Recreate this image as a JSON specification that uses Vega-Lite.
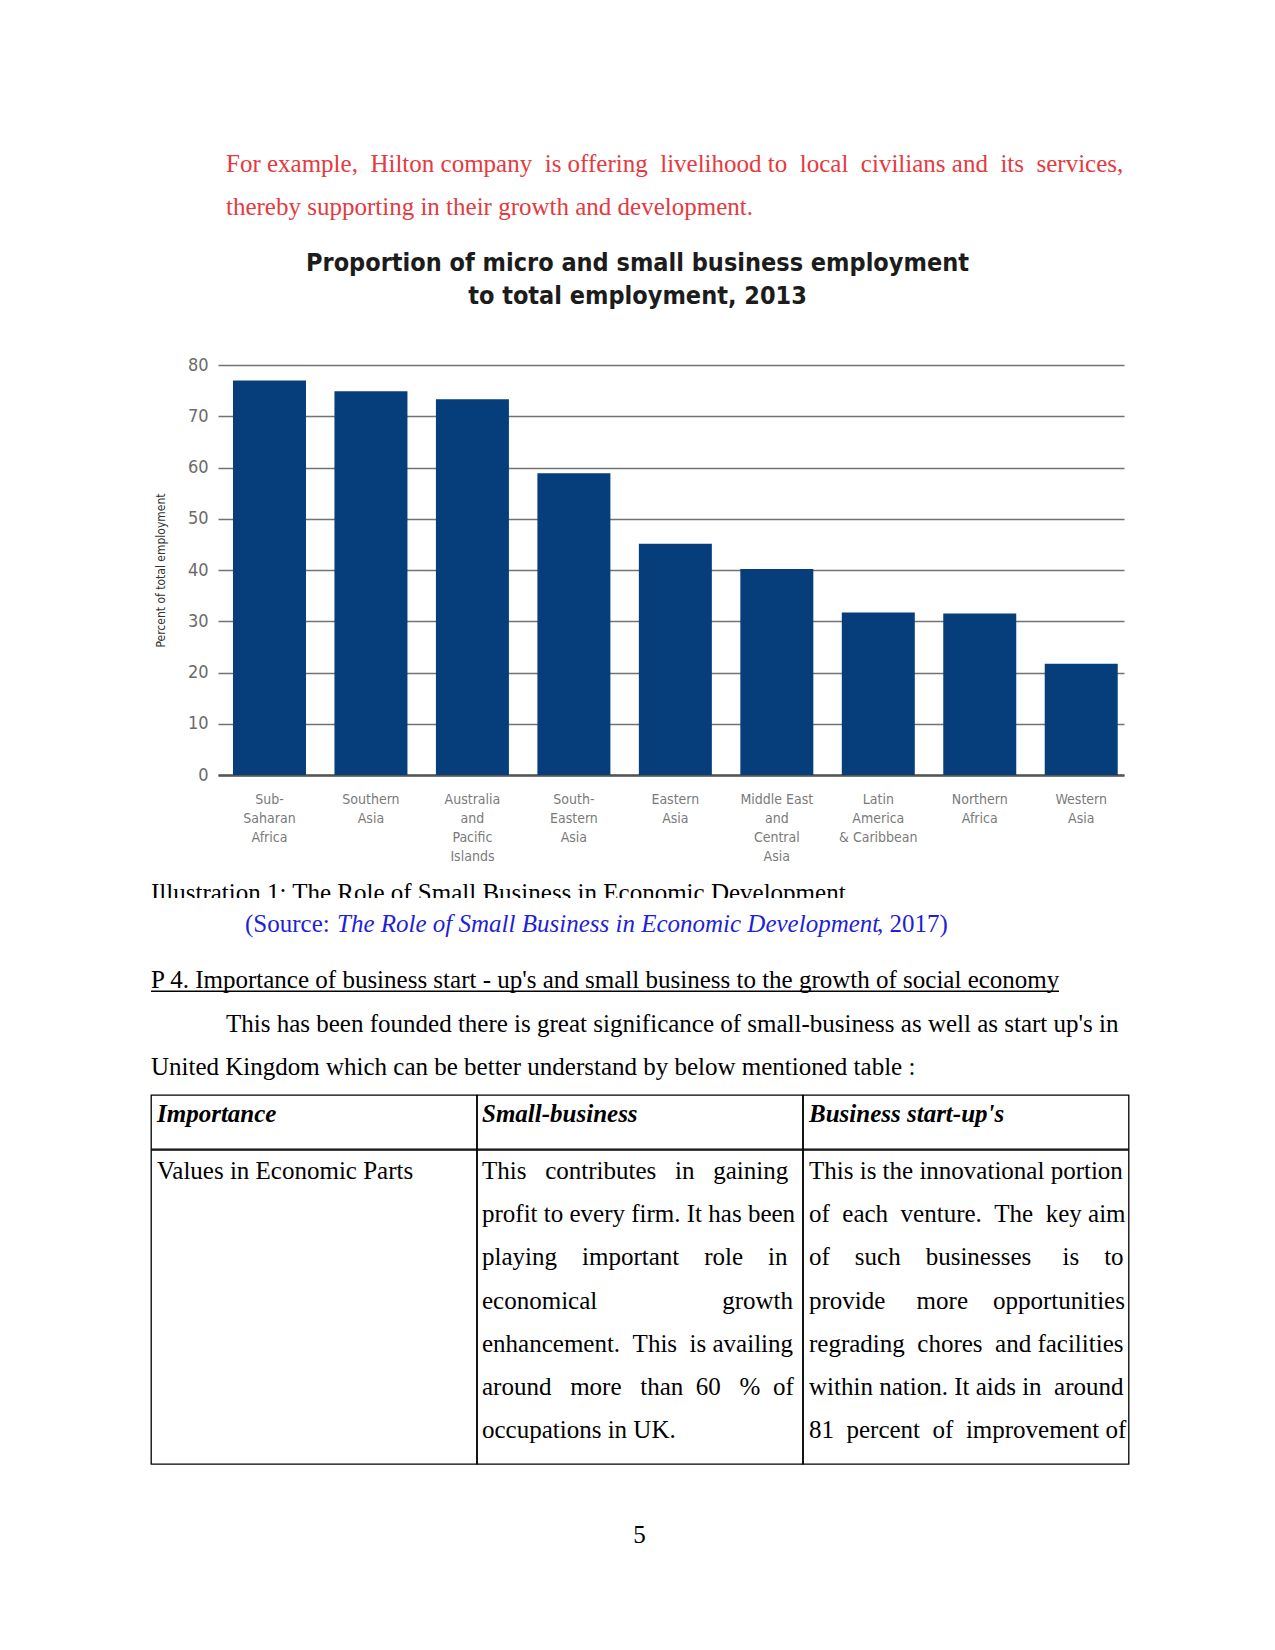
{
  "$schema": "https://vega.github.io/schema/vega-lite/v6.json",
  "background": "white",
  "padding": {"left": 150, "top": 143, "right": 148, "bottom": 40},
  "config": {"view": {"stroke": null}, "font": "Liberation Serif"},
  "spacing": 0,
  "bounds": "full",
  "vconcat": [
    {
      "width": 977, "height": 106.5,
      "data": {"values": [
        {"line": 1, "text": "For example, \u00a0Hilton company \u00a0is offering \u00a0livelihood to \u00a0local \u00a0civilians and \u00a0its \u00a0services,"},
        {"line": 2, "text": "thereby supporting in their growth and development."}
      ]},
      "mark": {"type": "text", "align": "left", "baseline": "middle", "font": "Liberation Serif", "fontSize": 25, "color": "#e53a3f", "dx": 75},
      "encoding": {
        "x": {"datum": 0, "type": "quantitative", "scale": {"domain": [0, 1]}, "axis": null},
        "y": {"field": "line", "type": "ordinal", "scale": {"type": "point", "padding": 0.7384, "align": 0.3384}, "axis": null},
        "text": {"field": "text"}
      }
    },
    {
      "width": 973, "height": 410,
      "title": {
        "text": ["Proportion of micro and small business employment", "to total employment, 2013"],
        "font": "DejaVu Sans Condensed, DejaVu Sans, sans-serif",
        "fontSize": 25, "fontWeight": "bold", "lineHeight": 33, "color": "#1c1c1c",
        "anchor": "middle", "frame": "group", "baseline": "bottom", "offset": 22.5
      },
      "data": {"values": [
        {"region": "Sub-|Saharan|Africa", "pct": 77.0},
        {"region": "Southern|Asia", "pct": 74.9},
        {"region": "Australia|and|Pacific|Islands", "pct": 73.3},
        {"region": "South-|Eastern|Asia", "pct": 58.9},
        {"region": "Eastern|Asia", "pct": 45.1},
        {"region": "Middle East|and|Central|Asia", "pct": 40.2},
        {"region": "Latin|America|& Caribbean", "pct": 31.7},
        {"region": "Northern|Africa", "pct": 31.5},
        {"region": "Western|Asia", "pct": 21.7}
      ]},
      "mark": {"type": "bar", "color": "#053e7a"},
      "encoding": {
        "x": {
          "field": "region", "type": "nominal", "sort": null,
          "scale": {"range": [67, 973], "paddingInner": 0.2806, "paddingOuter": 0.1048, "align": 0.705},
          "axis": {
            "title": null, "labelExpr": "split(datum.label, '|')", "labelAngle": 0,
            "ticks": false, "domain": true, "domainColor": "#555555", "domainWidth": 2.5,
            "labelFont": "DejaVu Sans Condensed, DejaVu Sans, sans-serif",
            "labelFontSize": 14, "labelLineHeight": 19, "labelColor": "#7a7a7a", "labelPadding": 17
          }
        },
        "y": {
          "field": "pct", "type": "quantitative",
          "scale": {"domain": [0, 80]},
          "axis": {
            "title": "Percent of total employment",
            "offset": -67,
            "values": [0, 10, 20, 30, 40, 50, 60, 70, 80],
            "grid": true, "gridColor": "#727272", "gridWidth": 1.3,
            "domain": false, "ticks": false,
            "labelFont": "DejaVu Sans Condensed, DejaVu Sans, sans-serif",
            "labelFontSize": 18, "labelColor": "#6a6a6a", "labelPadding": 10,
            "titleFont": "DejaVu Sans Condensed, DejaVu Sans, sans-serif",
            "titleFontSize": 12, "titleFontWeight": "normal", "titleColor": "#333333", "titlePadding": 19.4
          }
        }
      }
    },
    {
      "width": 977, "height": 35,
      "data": {"values": [{"line": 1, "text": "Illustration 1: The Role of Small Business in Economic Development"}]},
      "mark": {"type": "text", "align": "left", "baseline": "alphabetic", "font": "Liberation Serif", "fontSize": 25, "color": "#000000", "clip": true, "dy": 3},
      "encoding": {
        "x": {"datum": 0, "type": "quantitative", "scale": {"domain": [0, 1]}, "axis": null},
        "y": {"field": "line", "type": "ordinal", "scale": {"type": "point", "padding": 0.5, "align": 1}, "axis": null},
        "text": {"field": "text"}
      }
    },
    {
      "width": 977, "height": 52.2,
      "data": {"values": [
        {"line": 1, "part": "a", "text": "(Source: "},
        {"line": 1, "part": "b", "text": "The Role of Small Business in Economic Development"},
        {"line": 1, "part": "c", "text": ", 2017)"}
      ]},
      "encoding": {
        "x": {"datum": 0, "type": "quantitative", "scale": {"domain": [0, 1]}, "axis": null},
        "y": {"field": "line", "type": "ordinal", "scale": {"type": "point", "padding": 0.5}, "axis": null},
        "text": {"field": "text"}
      },
      "layer": [
        {"transform": [{"filter": "datum.part == 'a'"}],
         "mark": {"type": "text", "align": "left", "baseline": "middle", "font": "Liberation Serif", "fontSize": 25, "color": "#1f1fd6", "dx": 94}},
        {"transform": [{"filter": "datum.part == 'b'"}],
         "mark": {"type": "text", "align": "left", "baseline": "middle", "font": "Liberation Serif", "fontSize": 25, "fontStyle": "italic", "color": "#1f1fd6", "dx": 186}},
        {"transform": [{"filter": "datum.part == 'c'"}],
         "mark": {"type": "text", "align": "left", "baseline": "middle", "font": "Liberation Serif", "fontSize": 25, "color": "#1f1fd6", "dx": 726}}
      ]
    },
    {
      "width": 908, "height": 58.6,
      "data": {"values": [{"line": 1, "text": "P 4. Importance of business start - up's and small business to the growth of social economy"}]},
      "layer": [
        {
          "mark": {"type": "text", "align": "left", "baseline": "middle", "font": "Liberation Serif", "fontSize": 25, "color": "#000000"},
          "encoding": {
            "x": {"datum": 0, "type": "quantitative", "scale": {"domain": [0, 1]}, "axis": null},
            "y": {"field": "line", "type": "ordinal", "scale": {"type": "point", "padding": 0.5}, "axis": null},
            "text": {"field": "text"}
          }
        },
        {
          "mark": {"type": "rule", "color": "#000000", "strokeWidth": 1.5},
          "encoding": {
            "y": {"datum": 0.688, "type": "quantitative", "scale": {"domain": [0, 1], "reverse": true}, "axis": null}
          }
        }
      ],
      "resolve": {"scale": {"y": "independent"}}
    },
    {
      "width": 977, "height": 83.7,
      "data": {"values": [
        {"line": 1, "text": "This has been founded there is great significance of small-business as well as start up's in"},
        {"line": 2, "text": "United Kingdom which can be better understand by below mentioned table :"}
      ]},
      "encoding": {
        "x": {"datum": 0, "type": "quantitative", "scale": {"domain": [0, 1]}, "axis": null},
        "y": {"field": "line", "type": "ordinal", "scale": {"type": "point", "padding": 0.462, "align": 0.34}, "axis": null},
        "text": {"field": "text"}
      },
      "layer": [
        {"transform": [{"filter": "datum.line == 1"}],
         "mark": {"type": "text", "align": "left", "baseline": "middle", "font": "Liberation Serif", "fontSize": 25, "color": "#000000", "dx": 75}},
        {"transform": [{"filter": "datum.line == 2"}],
         "mark": {"type": "text", "align": "left", "baseline": "middle", "font": "Liberation Serif", "fontSize": 25, "color": "#000000"}}
      ]
    },
    {
      "spacing": -1.3,
      "bounds": "full",
      "vconcat": [
        {
          "spacing": 0,
          "bounds": "flush",
          "hconcat": [
            {
              "width": 325.6, "height": 54, "view": {"stroke": "#000000", "strokeWidth": 1.3},
              "data": {"values": [{"line": 1, "text": "Importance"}]},
              "mark": {"type": "text", "align": "left", "baseline": "middle", "font": "Liberation Serif", "fontSize": 25, "fontStyle": "italic", "fontWeight": "bold", "color": "#000000", "dx": 6},
              "encoding": {
                "x": {"datum": 0, "type": "quantitative", "scale": {"domain": [0, 1]}, "axis": null},
                "y": {"field": "line", "type": "ordinal", "scale": {"type": "point", "padding": 0.5, "align": 0.352}, "axis": null},
                "text": {"field": "text"}
              }
            },
            {
              "width": 325.6, "height": 54, "view": {"stroke": "#000000", "strokeWidth": 1.3},
              "data": {"values": [{"line": 1, "text": "Small-business"}]},
              "mark": {"type": "text", "align": "left", "baseline": "middle", "font": "Liberation Serif", "fontSize": 25, "fontStyle": "italic", "fontWeight": "bold", "color": "#000000", "dx": 5},
              "encoding": {
                "x": {"datum": 0, "type": "quantitative", "scale": {"domain": [0, 1]}, "axis": null},
                "y": {"field": "line", "type": "ordinal", "scale": {"type": "point", "padding": 0.5, "align": 0.352}, "axis": null},
                "text": {"field": "text"}
              }
            },
            {
              "width": 325.6, "height": 54, "view": {"stroke": "#000000", "strokeWidth": 1.3},
              "data": {"values": [{"line": 1, "text": "Business start-up's"}]},
              "mark": {"type": "text", "align": "left", "baseline": "middle", "font": "Liberation Serif", "fontSize": 25, "fontStyle": "italic", "fontWeight": "bold", "color": "#000000", "dx": 6},
              "encoding": {
                "x": {"datum": 0, "type": "quantitative", "scale": {"domain": [0, 1]}, "axis": null},
                "y": {"field": "line", "type": "ordinal", "scale": {"type": "point", "padding": 0.5, "align": 0.352}, "axis": null},
                "text": {"field": "text"}
              }
            }
          ]
        },
        {
          "spacing": 0,
          "bounds": "flush",
          "hconcat": [
            {
              "width": 325.6, "height": 314, "view": {"stroke": "#000000", "strokeWidth": 1.3},
              "data": {"values": [{"line": 1, "text": "Values in Economic Parts"}]},
              "mark": {"type": "text", "align": "left", "baseline": "middle", "font": "Liberation Serif", "fontSize": 25, "color": "#000000", "dx": 6},
              "encoding": {
                "x": {"datum": 0, "type": "quantitative", "scale": {"domain": [0, 1]}, "axis": null},
                "y": {"field": "line", "type": "ordinal", "scale": {"type": "point", "domain": [1, 2, 3, 4, 5, 6, 7], "padding": 0.637, "align": 0.382}, "axis": null},
                "text": {"field": "text"}
              }
            },
            {
              "width": 325.6, "height": 314, "view": {"stroke": "#000000", "strokeWidth": 1.3},
              "data": {"values": [
                {"line": 1, "text": "This \u00a0\u00a0contributes \u00a0\u00a0in \u00a0\u00a0gaining"},
                {"line": 2, "text": "profit to every firm. It has been"},
                {"line": 3, "text": "playing \u00a0\u00a0\u00a0important \u00a0\u00a0\u00a0role \u00a0\u00a0\u00a0in"},
                {"line": 4, "text": "economical \u00a0\u00a0\u00a0\u00a0\u00a0\u00a0\u00a0\u00a0\u00a0\u00a0\u00a0\u00a0\u00a0\u00a0\u00a0\u00a0\u00a0\u00a0\u00a0growth"},
                {"line": 5, "text": "enhancement. \u00a0This \u00a0is availing"},
                {"line": 6, "text": "around \u00a0\u00a0more \u00a0\u00a0than \u00a060 \u00a0\u00a0% \u00a0of"},
                {"line": 7, "text": "occupations in UK."}
              ]},
              "mark": {"type": "text", "align": "left", "baseline": "middle", "font": "Liberation Serif", "fontSize": 25, "color": "#000000", "dx": 5},
              "encoding": {
                "x": {"datum": 0, "type": "quantitative", "scale": {"domain": [0, 1]}, "axis": null},
                "y": {"field": "line", "type": "ordinal", "scale": {"type": "point", "domain": [1, 2, 3, 4, 5, 6, 7], "padding": 0.637, "align": 0.382}, "axis": null},
                "text": {"field": "text"}
              }
            },
            {
              "width": 325.6, "height": 314, "view": {"stroke": "#000000", "strokeWidth": 1.3},
              "data": {"values": [
                {"line": 1, "text": "This is the innovational portion"},
                {"line": 2, "text": "of \u00a0each \u00a0venture. \u00a0The \u00a0key aim"},
                {"line": 3, "text": "of \u00a0\u00a0\u00a0such \u00a0\u00a0\u00a0businesses \u00a0\u00a0\u00a0\u00a0is \u00a0\u00a0\u00a0to"},
                {"line": 4, "text": "provide \u00a0\u00a0\u00a0\u00a0more \u00a0\u00a0\u00a0opportunities"},
                {"line": 5, "text": "regrading \u00a0chores \u00a0and facilities"},
                {"line": 6, "text": "within nation. It aids in \u00a0around"},
                {"line": 7, "text": "81 \u00a0percent \u00a0of \u00a0improvement of"}
              ]},
              "mark": {"type": "text", "align": "left", "baseline": "middle", "font": "Liberation Serif", "fontSize": 25, "color": "#000000", "dx": 6},
              "encoding": {
                "x": {"datum": 0, "type": "quantitative", "scale": {"domain": [0, 1]}, "axis": null},
                "y": {"field": "line", "type": "ordinal", "scale": {"type": "point", "domain": [1, 2, 3, 4, 5, 6, 7], "padding": 0.637, "align": 0.382}, "axis": null},
                "text": {"field": "text"}
              }
            }
          ]
        }
      ]
    },
    {
      "width": 977, "height": 140.7,
      "data": {"values": [{"text": "5"}]},
      "mark": {"type": "text", "align": "center", "baseline": "middle", "font": "Liberation Serif", "fontSize": 25, "color": "#000000"},
      "encoding": {"text": {"field": "text"}}
    }
  ]
}
